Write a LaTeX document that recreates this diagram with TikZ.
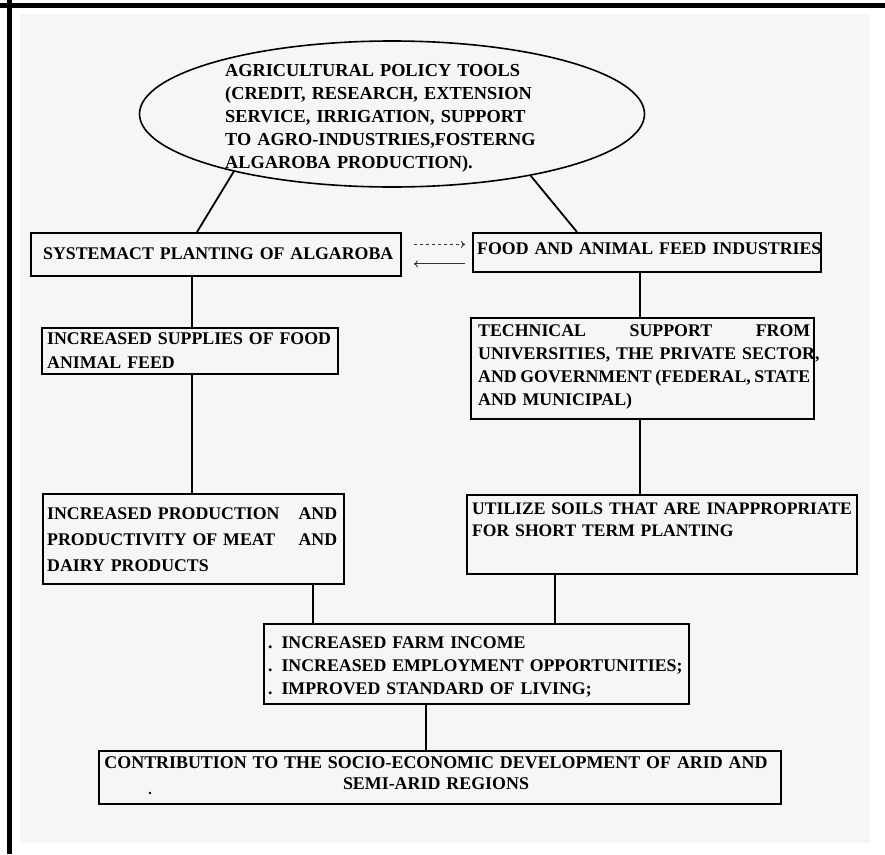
\documentclass[tikz,border=0pt]{standalone}
\usepackage{fontspec}
\setmainfont{Liberation Serif}
\usetikzlibrary{shapes.geometric,calc,arrows.meta}
\begin{document}
\begin{tikzpicture}[x=1pt,y=-1pt,
  box/.style={draw=black, line width=1.8pt, rectangle, inner sep=0pt, anchor=north west},
  txt/.style={inner sep=0pt, anchor=base west, font=\fontsize{17.8}{23}\selectfont\bfseries, align=left},
  link/.style={draw=black, line width=1.8pt},
  arr/.style={draw=black!80, line width=0.9pt, -{To[length=4pt,width=7pt]}}]

\useasboundingbox (0,0) rectangle (885,854);
\fill[white] (0,0) rectangle (885,854);
\fill[gray!7] (20,14) rectangle (870,843);
\fill[black] (0,3) rectangle (885,8);
\fill[black] (7,0) rectangle (12,854);

% ellipse
\node[draw=black, line width=1.6pt, ellipse, minimum width=505pt, minimum height=146pt, inner sep=0pt] (e) at (392,114) {};
\node[txt, text width=400pt, font=\fontsize{18.3}{23}\selectfont\bfseries] (te) at (225,76)
 {AGRICULTURAL POLICY TOOLS\\(CREDIT, RESEARCH, EXTENSION\\SERVICE, IRRIGATION, SUPPORT\\TO AGRO-INDUSTRIES,FOSTERNG\\ALGAROBA PRODUCTION).};

% boxes
\node[box, minimum width=370pt, minimum height=43pt] (b1) at (30,232) {};
\node[box, minimum width=348pt, minimum height=39pt] (b2) at (472,232) {};
\node[box, minimum width=296pt, minimum height=46pt] (b3) at (41,327) {};
\node[box, minimum width=343pt, minimum height=101pt] (b4) at (470,317) {};
\node[box, minimum width=301pt, minimum height=90pt] (b5) at (42,493) {};
\node[box, minimum width=390pt, minimum height=79pt] (b6) at (466,494) {};
\node[box, minimum width=425pt, minimum height=80pt] (b7) at (263,623) {};
\node[box, minimum width=682pt, minimum height=53pt] (b8) at (98,750) {};

% texts
\node[txt, text width=400pt] (t1) at (43,259) {SYSTEMACT PLANTING OF ALGAROBA};
\node[txt, text width=400pt] (t2) at (477,254) {FOOD AND ANIMAL FEED INDUSTRIES};
\node[txt, text width=400pt, font=\fontsize{17.8}{24}\selectfont\bfseries] (t3) at (47,344) {INCREASED SUPPLIES OF FOOD\\ANIMAL FEED};
\node[txt, text width=400pt, font=\fontsize{17.8}{23.3}\selectfont\bfseries] (t4) at (478,336)
 {\makebox[332pt][l]{TECHNICAL\hfill SUPPORT\hfill FROM}\\\makebox[332pt][l]{UNIVERSITIES, THE PRIVATE SECTOR,}\\\makebox[332pt][l]{AND\hfill GOVERNMENT\hfill (FEDERAL,\hfill STATE}\\AND MUNICIPAL)};
\node[txt, text width=400pt, font=\fontsize{17.8}{26}\selectfont\bfseries] (t5) at (47,519)
 {\makebox[290pt][l]{INCREASED PRODUCTION\hfill AND}\\\makebox[290pt][l]{PRODUCTIVITY OF MEAT\hfill AND}\\DAIRY PRODUCTS};
\node[txt, text width=420pt, font=\fontsize{17.6}{22}\selectfont\bfseries] (t6) at (472,514)
 {UTILIZE SOILS THAT ARE INAPPROPRIATE\\FOR SHORT TERM PLANTING};
\node[txt, text width=420pt] (t7) at (268,648)
 {. INCREASED FARM INCOME\\. INCREASED EMPLOYMENT OPPORTUNITIES;\\. IMPROVED STANDARD OF LIVING;};
\node[txt, anchor=base, text width=700pt, align=center, font=\fontsize{17.9}{21}\selectfont\bfseries] (t8) at (436,768)
 {CONTRIBUTION TO THE SOCIO-ECONOMIC DEVELOPMENT OF ARID AND\\SEMI-ARID REGIONS};
\fill (150,793) circle (1.3);

% column coordinates
\coordinate (cA) at (197,0);
\coordinate (cB) at (577,0);
\coordinate (cL) at (192,0);
\coordinate (cM) at (313,0);
\coordinate (cR) at (640,0);
\coordinate (cS) at (555,0);
\coordinate (cC) at (426,0);

% connectors
\draw[link] (e.200.9) -- (b1.north -| cA);
\draw[link] (e.336.2) -- (b2.north -| cB);
\draw[link] (b1.south -| cL) -- (b3.north -| cL);
\draw[link] (b3.south -| cL) -- (b5.north -| cL);
\draw[link] (b2.south -| cR) -- (b4.north -| cR);
\draw[link] (b4.south -| cR) -- (b6.north -| cR);
\draw[link] (b5.south -| cM) -- (b7.north -| cM);
\draw[link] (b6.south -| cS) -- (b7.north -| cS);
\draw[link] (b7.south -| cC) -- (b8.north -| cC);

% exchange arrows
\draw[arr, dashed, shorten <=12pt, shorten >=7pt] ([yshift=10pt]b1.east) -- ([yshift=10pt]b1.east -| b2.west);
\draw[arr, shorten <=7pt, shorten >=12pt] ([yshift=-9.5pt]b1.east -| b2.west) -- ([yshift=-9.5pt]b1.east);
\end{tikzpicture}
\end{document}
